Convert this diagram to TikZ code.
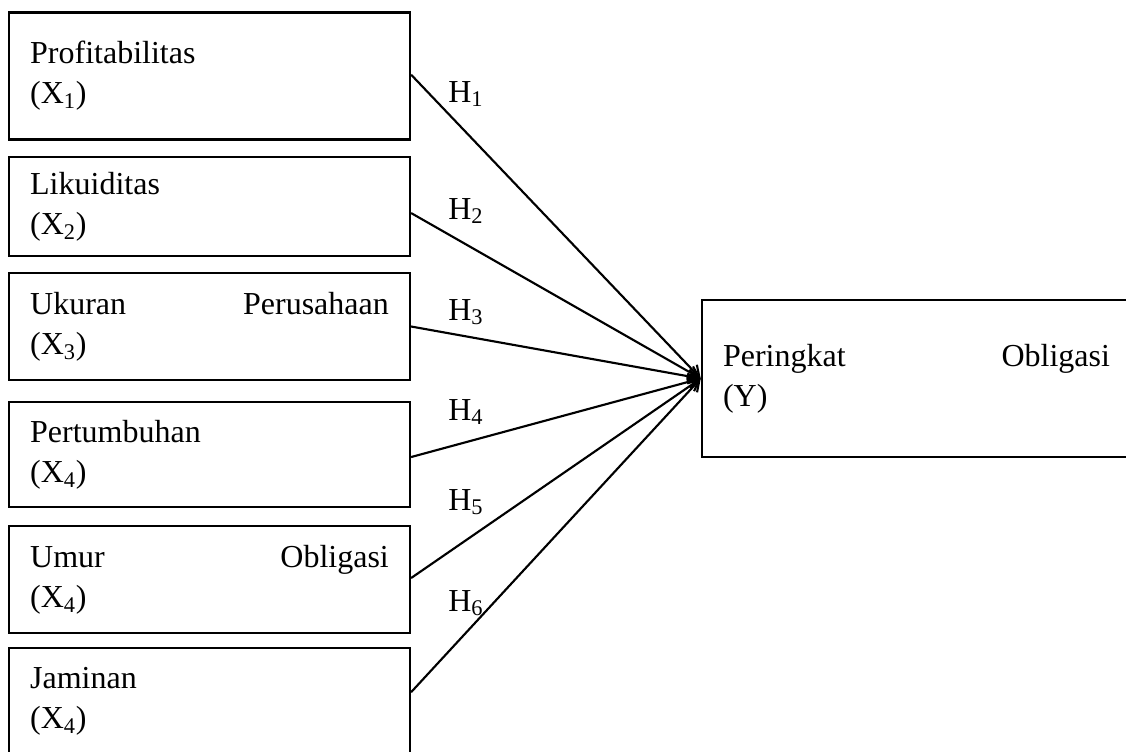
\documentclass[tikz,border=0pt]{standalone}
\usepackage{fontspec}
\setmainfont{Liberation Serif}
\usetikzlibrary{arrows.meta}
\begin{document}
\begin{tikzpicture}[x=0.75pt,y=-0.75pt,
  box/.style={draw, line width=1.9pt, inner xsep=15.75pt, inner ysep=0pt,
    text width=269pt, align=left, font=\fontsize{24}{30}\selectfont},
  conn/.style={line width=1.6pt, -{Straight Barb[length=8pt,width=10pt,line width=1.6pt]}},
  hlab/.style={anchor=base west, inner sep=0pt, font=\fontsize{24}{30}\selectfont}]
\useasboundingbox (0,0) rectangle (1126,751);
\clip (0,0) rectangle (1126,751);
\node[box, minimum height=95.25pt] (b1) at (209.5,76) {Profitabilitas\\(X\textsubscript{1})};
\node[box, minimum height=74.25pt] (b2) at (209.5,206.5) {Likuiditas\\(X\textsubscript{2})};
\node[box, minimum height=80.25pt] (b3) at (209.5,326.5) {Ukuran\hfill Perusahaan\\(X\textsubscript{3})};
\node[box, minimum height=78.75pt] (b4) at (209.5,454.5) {Pertumbuhan\\(X\textsubscript{4})};
\node[box, minimum height=80.25pt] (b5) at (209.5,579.5) {Umur\hfill Obligasi\\(X\textsubscript{4})};
\node[box, minimum height=80.25pt] (b6) at (209.5,701.5) {Jaminan\\(X\textsubscript{4})};
\node[box, text width=290.25pt, minimum height=117.75pt] (y) at (916.5,378.5) {Peringkat\hfill Obligasi\\(Y)};
\draw[conn] ([yshift=1pt]b1.east) -- (y.west);
\draw[conn] ([yshift=-4.9pt]b2.east) -- (y.west);
\draw[conn] (b3.east) -- (y.west);
\draw[conn] ([yshift=-1.9pt]b4.east) -- (y.west);
\draw[conn] ([yshift=1.1pt]b5.east) -- (y.west);
\draw[conn] ([yshift=7pt]b6.east) -- (y.west);
\node[hlab] (h1) at (448,102) {H\textsubscript{1}};
\node[hlab] (h2) at (448,219) {H\textsubscript{2}};
\node[hlab] (h3) at (448,320) {H\textsubscript{3}};
\node[hlab] (h4) at (448,420) {H\textsubscript{4}};
\node[hlab] (h5) at (448,510) {H\textsubscript{5}};
\node[hlab] (h6) at (448,611) {H\textsubscript{6}};
\end{tikzpicture}
\end{document}
